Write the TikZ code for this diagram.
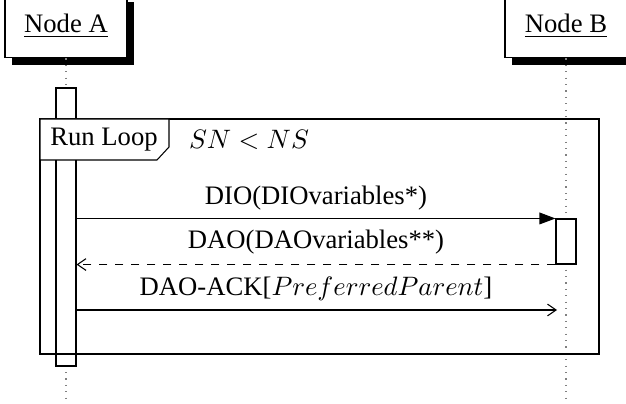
\documentclass[tikz,border=0pt]{standalone}
\usepackage{fontspec}
\setmainfont{Liberation Serif}
\usetikzlibrary{arrows.meta,shadows,calc}
\begin{document}
\begin{tikzpicture}[x=0.375pt,y=-0.375pt,
  actor/.style={draw,fill=white,minimum width=45.75pt,minimum height=23.6pt,
    inner sep=0pt,drop shadow={shadow xshift=2.6pt,shadow yshift=-2.6pt,opacity=1,fill=black}},
  lifeline/.style={draw=gray,dotted},
  actbar/.style={draw,fill=white,minimum width=7.5pt,inner sep=0pt},
  call/.style={-{Triangle[length=6pt,width=4.4pt]}},
  reply/.style={dashed,-{Straight Barb[length=3.2pt,width=4.4pt]}},
  plain/.style={-{Straight Barb[length=3.2pt,width=4.4pt]}},
  msglabel/.style={inner sep=0pt}]
\useasboundingbox (0,0) rectangle (626,404);

% participants
\node[actor] (A) at (66,26.5) {\underline{Node A}};
\node[actor] (B) at (566,26.5) {\underline{Node B}};
\coordinate (Aend) at (66,398);
\coordinate (Bend) at (566,398);

% lifelines
\draw[lifeline] (A.south) -- (Aend);
\draw[lifeline] (B.south) -- (Bend);

% activation bars
\node[actbar,minimum height=104.25pt] (actA) at (66,227) {};
\node[actbar,minimum height=16.875pt] (actB) at (566,241.5) {};

% loop frame
\draw (40,119) rectangle (599,354);
\draw[fill=white] (40,119) -- (169,119) -- (169,147) -- (157,160) -- (40,160) -- cycle;
\node[msglabel] (looptitle) at (104,140) {Run Loop};
\node[msglabel] (loopcond) at (249,140) {$SN < NS$};

% messages
\draw[call] (actA.east |- actB.north west) -- (actB.north west);
\node[msglabel] (dio) at (316,198) {DIO(DIOvariables*)};

\draw[reply] (actB.south west) -- (actA.east |- actB.south west);
\node[msglabel] (dao) at (316,242) {DAO(DAOvariables**)};

\coordinate (ackend) at (557,310);
\draw[plain] (actA.east |- ackend) -- (ackend);
\node[msglabel] (ack) at (316,289) {DAO-ACK[$PreferredParent$]};
\end{tikzpicture}
\end{document}
